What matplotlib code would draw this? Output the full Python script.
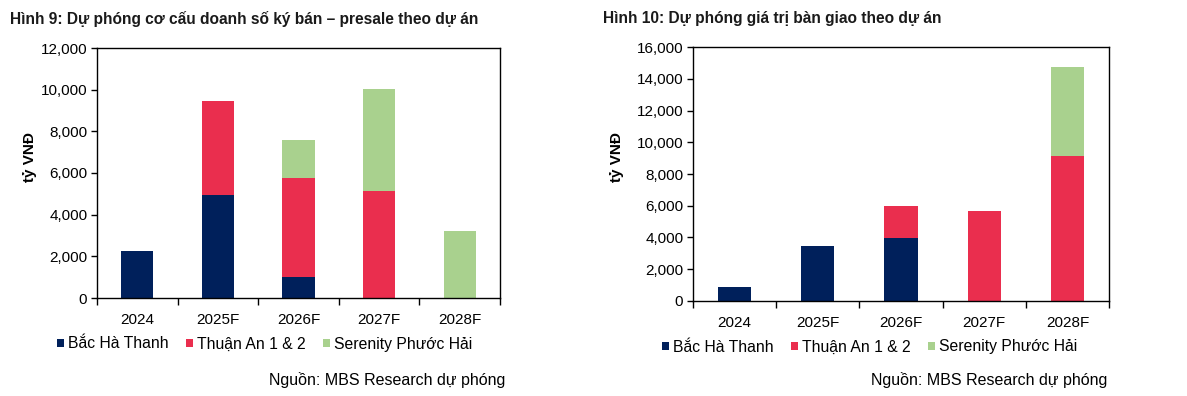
import matplotlib
matplotlib.use("Agg")
from matplotlib import pyplot as plt
from matplotlib.patches import Patch

plt.rcParams['font.family'] = ['Liberation Sans', 'DejaVu Sans']

years = ['2024', '2025F', '2026F', '2027F', '2028F']
projects = ['Bắc Hà Thanh', 'Thuận An 1 & 2', 'Serenity Phước Hải']
colors = ['#00205B', '#EA2E4E', '#A9D18E']

# Hình 9: presale
presale_bht = [2250, 4950, 1000, 0, 0]
presale_ta = [0, 4500, 4750, 5150, 0]
presale_sph = [0, 0, 1850, 4900, 3200]

# Hình 10: ban giao
handover_bht = [850, 3480, 3950, 0, 0]
handover_ta = [0, 0, 2000, 5650, 9150]
handover_sph = [0, 0, 0, 0, 5600]

W, H = 1187, 396
fig = plt.figure(figsize=(W / 100, H / 100), dpi=100)


def panel(rect, series, ymax, title, title_x, ylab_x, leg_x, leg_y, src_x):
    ax = fig.add_axes(rect)
    x = list(range(len(years)))
    bottom = [0] * len(years)
    for vals, c in zip(series, colors):
        ax.bar(x, vals, width=0.4, bottom=bottom, color=c, linewidth=0)
        bottom = [b + v for b, v in zip(bottom, vals)]
    ax.set_xlim(-0.5, len(years) - 0.5)
    ax.set_ylim(0, ymax)
    ax.set_yticks(range(0, ymax + 1, 2000))
    ax.set_yticklabels([f'{v:,}' for v in range(0, ymax + 1, 2000)])
    ax.set_xticks([i - 0.5 for i in range(len(years) + 1)])
    ax.set_xticklabels([])
    ax.set_xticks(x, minor=True)
    ax.set_xticklabels(years, minor=True)
    ax.tick_params(axis='x', which='minor', length=0, labelsize=11, pad=11)
    ax.tick_params(axis='x', which='major', length=5, width=1)
    ax.tick_params(axis='y', length=4.5, width=1, labelsize=11, pad=2.5)
    for s in ax.spines.values():
        s.set_linewidth(1)
    fig.text(title_x / W, 1 - 19 / H, title, fontsize=11.2, fontweight='bold',
             color='#1a1a1a', va='center', ha='left')
    fig.text(ylab_x / W, 1 - 157 / H, 'tỷ VNĐ', fontsize=11, fontweight='bold',
             rotation=90, va='center', ha='center')
    handles = [Patch(facecolor=c, edgecolor='none') for c in colors]
    fig.legend(handles, projects, loc='center left', ncol=3, frameon=False,
               bbox_to_anchor=(leg_x / W, 1 - leg_y / H), fontsize=11.3,
               handlelength=0.45, handleheight=0.45, handletextpad=0.25,
               columnspacing=1.1, borderpad=0, borderaxespad=0)
    fig.text(src_x / W, 1 - 380 / H, 'Nguồn: MBS Research dự phóng',
             fontsize=11.5, ha='right', va='center')
    return ax


panel([97 / W, 1 - 298 / H, 403 / W, 250 / H],
      [presale_bht, presale_ta, presale_sph], 12000,
      'Hình 9: Dự phóng cơ cấu doanh số ký bán – presale theo dự án',
      10, 30, 57, 344, 505)
panel([693 / W, 1 - 300.7 / H, 416 / W, 253.4 / H],
      [handover_bht, handover_ta, handover_sph], 16000,
      'Hình 10: Dự phóng giá trị bàn giao theo dự án',
      603, 617, 662, 347, 1107)

fig.savefig('out.png', dpi=100)
